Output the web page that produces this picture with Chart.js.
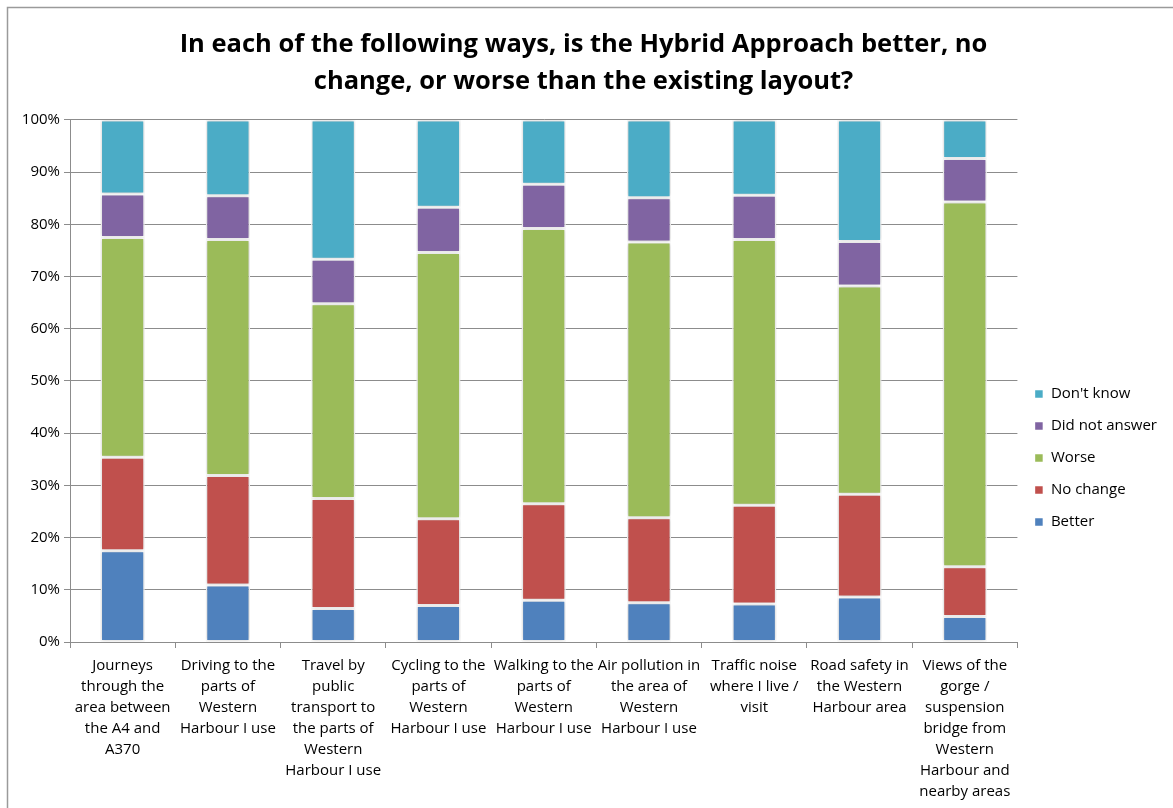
<!DOCTYPE html>
<html>
<head>
<meta charset="utf-8">
<script src="https://cdn.jsdelivr.net/npm/chart.js@4"></script>
<style>
  html, body { margin: 0; padding: 0; background: #fff; }
  #wrap { width: 1173px; height: 808px; }
</style>
</head>
<body>
<div id="wrap"><canvas id="hybridChart"></canvas></div>
<script>
const categories = [
  ["Journeys", "through the", "area between", "the A4 and", "A370"],
  ["Driving to the", "parts of", "Western", "Harbour I use"],
  ["Travel by", "public", "transport to", "the parts of", "Western", "Harbour I use"],
  ["Cycling to the", "parts of", "Western", "Harbour I use"],
  ["Walking to the", "parts of", "Western", "Harbour I use"],
  ["Air pollution in", "the area of", "Western", "Harbour I use"],
  ["Traffic noise", "where I live /", "visit"],
  ["Road safety in", "the Western", "Harbour area"],
  ["Views of the", "gorge /", "suspension", "bridge from", "Western", "Harbour and", "nearby areas"],
];

// percentages per category, bottom to top of each stack
const better       = [17.5, 10.9,  6.4,  7.0,  8.0,  7.5,  7.3,  8.6,  4.9];
const noChange     = [17.9, 21.0, 21.1, 16.6, 18.5, 16.3, 18.9, 19.7,  9.5];
const worse        = [42.1, 45.2, 37.3, 51.0, 52.7, 52.8, 50.9, 39.9, 69.9];
const didNotAnswer = [ 8.3,  8.4,  8.5,  8.7,  8.5,  8.5,  8.5,  8.5,  8.3];
const dontKnow     = [14.2, 14.5, 26.7, 16.7, 12.3, 14.9, 14.4, 23.3,  7.4];

const FONT = "'Open Sans', Lato, sans-serif";
const GRID = "#8c8c8c";

// soft grey halo round each bar segment
const barShadow = {
  id: "barShadow",
  beforeDatasetsDraw(chart) {
    const c = chart.ctx;
    c.save();
    c.shadowColor = "rgba(0,0,0,0.22)";
    c.shadowBlur = 4;
  },
  afterDatasetsDraw(chart) {
    chart.ctx.restore();
  },
};

// thin frame round the chart object
const frame = {
  id: "frame",
  beforeDraw(chart) {
    const c = chart.ctx;
    c.save();
    c.strokeStyle = "#9a9a9a";
    c.lineWidth = 1.5;
    c.strokeRect(7.5, 7.5, chart.width + 20, chart.height + 20);
    c.restore();
  },
};

function series(label, data, color) {
  return {
    label,
    data,
    backgroundColor: color,
    borderColor: "#ffffff",
    borderWidth: 1.5,
    borderSkipped: false,
    barPercentage: 0.42,
    categoryPercentage: 1.0,
  };
}

new Chart(document.getElementById("hybridChart"), {
  type: "bar",
  data: {
    labels: categories,
    datasets: [
      series("Better", better, "#4f81bd"),
      series("No change", noChange, "#c0504d"),
      series("Worse", worse, "#9bbb59"),
      series("Did not answer", didNotAnswer, "#8064a2"),
      series("Don't know", dontKnow, "#4bacc6"),
    ],
  },
  options: {
    responsive: true,
    maintainAspectRatio: false,
    animation: false,
    layout: { padding: { left: 0, right: 6, top: 0, bottom: 0 } },
    plugins: {
      tooltip: { enabled: false },
      title: {
        display: true,
        text: [
          "In each of the following ways, is the Hybrid Approach better, no",
          "change, or worse than the existing layout?",
        ],
        color: "#000",
        font: { family: FONT, size: 25.5, weight: "bold", lineHeight: 1.45 },
        padding: { top: 26.5, bottom: 19.5 },
      },
      legend: {
        position: "right",
        reverse: true,
        title: {
          display: true,
          text: "",
          font: { size: 12, lineHeight: 1 },
          padding: 48,
        },
        labels: {
          color: "#000",
          font: { family: FONT, size: 15 },
          boxWidth: 9,
          boxHeight: 9,
          padding: 17,
        },
      },
    },
    scales: {
      x: {
        stacked: true,
        grid: {
          display: true,
          drawOnChartArea: false,
          drawTicks: true,
          tickLength: 6,
          color: GRID,
          offset: true,
        },
        border: { display: true, color: GRID },
        ticks: {
          color: "#000",
          font: { family: FONT, size: 15, lineHeight: 1.4 },
          maxRotation: 0,
          autoSkip: false,
          padding: 7,
        },
        afterFit(scale) { scale.height = 166; },
      },
      y: {
        stacked: true,
        min: 0,
        max: 100,
        grid: { color: GRID, tickLength: 6 },
        border: { display: true, color: GRID },
        ticks: {
          stepSize: 10,
          color: "#000",
          font: { family: FONT, size: 15 },
          padding: 4,
          callback: (v) => v + "%",
        },
        afterFit(scale) { scale.width = 70; },
      },
    },
  },
  plugins: [frame, barShadow],
});
</script>
</body>
</html>
